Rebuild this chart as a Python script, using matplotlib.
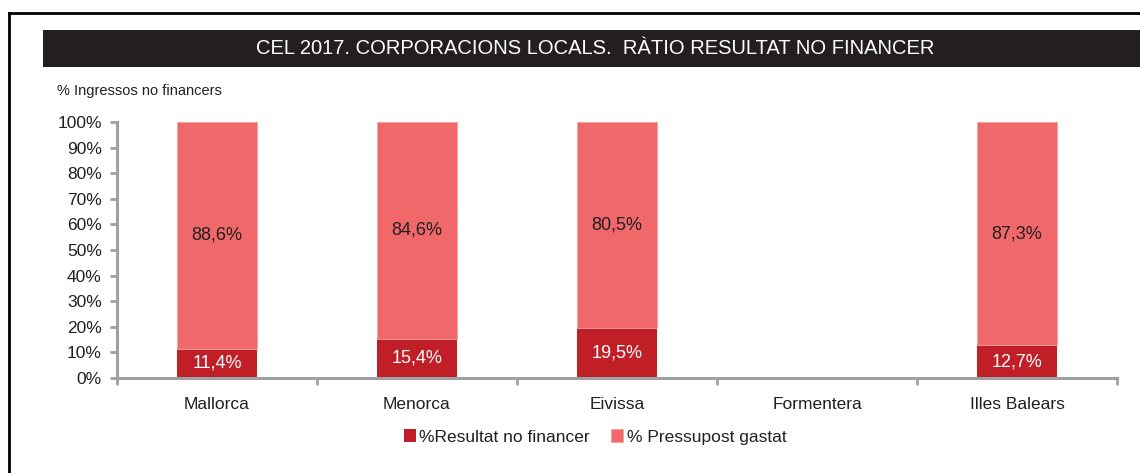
import numpy as np
import matplotlib.pyplot as plt
from matplotlib.lines import Line2D
from matplotlib.patches import Rectangle
from matplotlib import font_manager

# data
illes = ["Mallorca", "Menorca", "Eivissa", "Formentera", "Illes Balears"]
resultat = [11.4, 15.4, 19.5, np.nan, 12.7]
pressupost = [88.6, 84.6, 80.5, np.nan, 87.3]
yticks = [0, 10, 20, 30, 40, 50, 60, 70, 80, 90, 100]

noms = [f.name for f in font_manager.fontManager.ttflist]
if "Liberation Sans Narrow" in noms:
    plt.rcParams['font.family'] = ["Liberation Sans Narrow", "DejaVu Sans"]
else:
    plt.rcParams['font.family'] = ["Liberation Sans", "DejaVu Sans"]

W, H = 1140, 473
fig = plt.figure(figsize=(W / 100, H / 100), dpi=100)

# cadre
fig.add_artist(Line2D([9 / W, 9 / W], [0, 1 - 13 / H], color="black", lw=2))
fig.add_artist(Line2D([9 / W, 1], [1 - 13 / H, 1 - 13 / H], color="black", lw=2))

# bandeau du titre
fig.add_artist(Rectangle((43 / W, 1 - 67 / H), 1 - 43 / W, 37 / H,
                         transform=fig.transFigure, color="#231F20", lw=0))
fig.text(595 / W, 1 - 49 / H, "CEL 2017. CORPORACIONS LOCALS.  RÀTIO RESULTAT NO FINANCER",
         color="white", fontsize=14.5, ha="center", va="center")
fig.text(57 / W, 1 - 91 / H, "% Ingressos no financers", fontsize=10.5,
         ha="left", va="center", color="#231F20")

ax = fig.add_axes([117 / W, 95 / H, 1000 / W, 256 / H])

x = np.arange(len(illes))
c_res = "#C01F28"
c_pre = "#F0686A"
ax.bar(x, resultat, width=0.4, color=c_res, label="%Resultat no financer")
ax.bar(x, pressupost, width=0.4, bottom=resultat, color=c_pre,
       edgecolor="#F6A3A3", linewidth=0.6, label="% Pressupost gastat")

for i in range(len(illes)):
    if np.isnan(resultat[i]):
        continue
    ax.text(x[i], resultat[i] / 2, f"{resultat[i]:.1f}%".replace(".", ","),
            ha="center", va="center", color="white", fontsize=13)
    ax.text(x[i], resultat[i] + pressupost[i] / 2, f"{pressupost[i]:.1f}%".replace(".", ","),
            ha="center", va="center", color="#231F20", fontsize=13)

ax.set_xlim(-0.5, len(illes) - 0.5)
ax.set_ylim(0, 100)
ax.set_yticks(yticks)
ax.set_yticklabels([f"{v}%" for v in yticks], fontsize=12.5, color="#231F20")
ax.set_xticks(np.arange(len(illes) + 1) - 0.5, minor=False)
ax.set_xticklabels([])
ax.set_xticks(x, minor=True)
ax.set_xticklabels(illes, minor=True, fontsize=12.5, color="#231F20")
ax.tick_params(axis="x", which="minor", length=0, pad=14)
ax.tick_params(axis="x", which="major", length=5, width=2, color="#A0A0A4")
ax.tick_params(axis="y", length=5, width=2, color="#A0A0A4", pad=6)

for s in ["top", "right"]:
    ax.spines[s].set_visible(False)
for s in ["left", "bottom"]:
    ax.spines[s].set_color("#A0A0A4")
    ax.spines[s].set_linewidth(2.2)

fig.legend(loc="center", bbox_to_anchor=(595 / W, 1 - 437 / H), ncol=2, frameon=False,
           fontsize=12.5, handlelength=0.7, handleheight=0.7, handletextpad=0.2,
           columnspacing=1.2, labelcolor="#231F20")

fig.savefig("out.png", dpi=100)
